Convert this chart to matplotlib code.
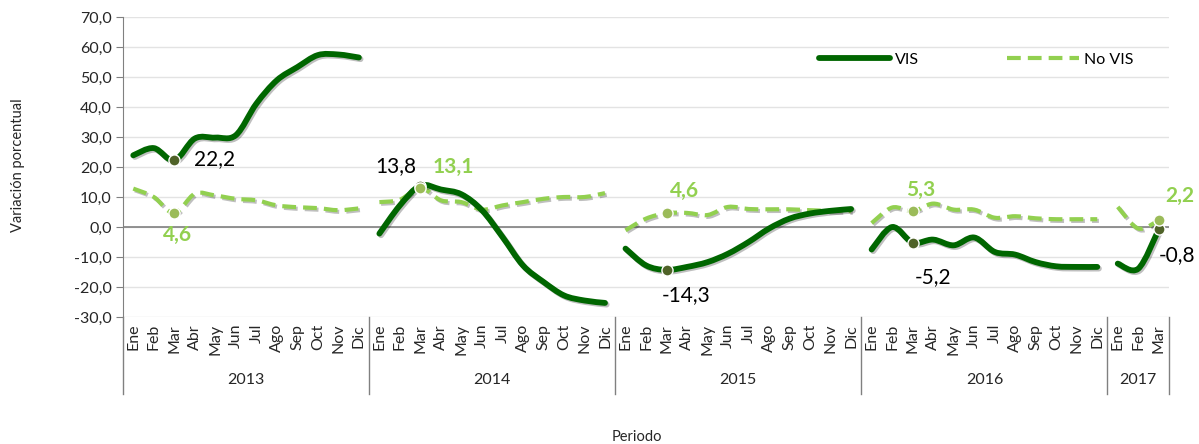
import matplotlib
matplotlib.use('Agg')
import matplotlib.pyplot as plt
import matplotlib.patheffects as pe
from matplotlib.path import Path
from matplotlib.patches import PathPatch
from matplotlib.lines import Line2D
from matplotlib.transforms import blended_transform_factory
import numpy as np

plt.rcParams['font.family'] = ['Lato', 'DejaVu Sans']

meses = ['Ene', 'Feb', 'Mar', 'Abr', 'May', 'Jun', 'Jul', 'Ago', 'Sep', 'Oct', 'Nov', 'Dic']
anios = ['2013', '2014', '2015', '2016', '2017']
meses_por_anio = [12, 12, 12, 12, 3]

# variacion porcentual
vis = [23.9, 26.3, 22.2, 29.5, 29.8, 30.6, 41.1, 48.9, 53.3, 57.3, 57.5, 56.5,
       -2.2, 7.2, 13.8, 12.5, 10.9, 5.6, -3.3, -12.8, -18.3, -22.8, -24.5, -25.3,
       -7.2, -12.8, -14.3, -13.3, -11.7, -8.9, -5.0, -0.5, 2.8, 4.5, 5.4, 6.0,
       -7.5, 0.0, -5.2, -4.2, -6.1, -3.5, -8.3, -9.2, -11.7, -13.1, -13.3, -13.3,
       -12.2, -13.9, -0.8]
no_vis = [12.8, 10.0, 4.6, 11.1, 10.5, 9.4, 8.9, 7.2, 6.6, 6.3, 5.6, 6.2,
          8.3, 9.1, 13.1, 8.9, 8.3, 5.8, 7.2, 8.3, 9.4, 10.0, 10.0, 11.3,
          -1.1, 2.8, 4.6, 4.7, 4.0, 6.7, 6.0, 5.9, 5.9, 5.6, 5.4, 5.3,
          1.3, 6.5, 5.3, 7.8, 5.8, 5.8, 3.1, 3.6, 2.9, 2.6, 2.6, 2.6,
          6.7, -0.5, 2.2]

# puntos etiquetados (indice) y desplazamiento de la etiqueta en pixeles
marcados = [2, 14, 26, 38, 50]
off_vis = [(40, 1), (-25, 20), (20, -25), (20, -34), (18, -26)]
off_no_vis = [(3, -22), (33, 21), (18, 22), (8, 21), (21, 24)]

verde = '#006600'
verde_claro = '#92D050'
sombra = [pe.SimpleLineShadow(offset=(1.2, -1.2), shadow_color='k', alpha=0.25), pe.Normal()]


def curva(ax, xs, ys, **kw):
    # linea suavizada tipo Excel (Bezier por tramos)
    pts = np.column_stack([xs, ys]).astype(float)
    p = np.vstack([pts[0], pts, pts[-1]])
    verts = [pts[0]]
    codes = [Path.MOVETO]
    for i in range(1, len(p) - 2):
        c1 = p[i] + (p[i + 1] - p[i - 1]) / 6
        c2 = p[i + 1] - (p[i + 2] - p[i]) / 6
        verts += [c1, c2, p[i + 1]]
        codes += [Path.CURVE4] * 3
    ax.add_patch(PathPatch(Path(verts, codes), fill=False, **kw))


fig = plt.figure(figsize=(11.99, 4.44), dpi=100)
ax = fig.add_axes([0.1026, 0.286, 0.8724, 0.6757])

inicio = 0
for n in meses_por_anio:
    xs = np.arange(inicio, inicio + n)
    curva(ax, xs, no_vis[inicio:inicio + n], edgecolor=verde_claro, lw=3.0,
          linestyle=(0, (3.3, 1.7)), capstyle='butt', path_effects=sombra, zorder=3)
    curva(ax, xs, vis[inicio:inicio + n], edgecolor=verde, lw=4.2,
          capstyle='round', joinstyle='round', path_effects=sombra, zorder=4)
    inicio += n

for i, ov, on in zip(marcados, off_vis, off_no_vis):
    ax.plot(i, vis[i], 'o', ms=8, mfc='#4F6228', mec='white', mew=1, zorder=5)
    ax.plot(i, no_vis[i], 'o', ms=8, mfc='#9BBB59', mec='white', mew=1, zorder=6)
    ax.annotate(f'{vis[i]:.1f}'.replace('.', ','), (i, vis[i]), xytext=ov,
                textcoords='offset pixels', ha='center', va='center',
                fontsize=15, color='black', annotation_clip=False)
    ax.annotate(f'{no_vis[i]:.1f}'.replace('.', ','), (i, no_vis[i]), xytext=on,
                textcoords='offset pixels', ha='center', va='center',
                fontsize=15, color=verde_claro, fontweight='bold', annotation_clip=False)

ax.set_xlim(-0.5, sum(meses_por_anio) - 0.5)
ax.set_ylim(-30, 70)
yt = np.arange(-30, 71, 10)
ax.set_yticks(yt)
ax.set_yticklabels([f'{v:.1f}'.replace('.', ',') for v in yt], fontsize=11.5, color='#262626')
ax.tick_params(axis='y', length=5, color='#808080', pad=3)
ax.grid(axis='y', color='#E3E3E3', lw=1)
ax.axhline(0, color='#808080', lw=1.2, zorder=2)
ax.set_axisbelow(True)
for s in ['top', 'right', 'bottom']:
    ax.spines[s].set_visible(False)
ax.spines['left'].set_color('#808080')

etiquetas = []
for n in meses_por_anio:
    etiquetas += meses[:n]
ax.set_xticks(np.arange(len(etiquetas)))
ax.set_xticklabels(etiquetas, rotation=90, fontsize=11.5, color='#262626')
ax.tick_params(axis='x', length=0, pad=5)

tr = blended_transform_factory(ax.transData, ax.transAxes)
limites = np.concatenate([[0], np.cumsum(meses_por_anio)]) - 0.5
for b in limites:
    ax.add_line(Line2D([b, b], [0, -0.255], transform=tr, color='#808080', lw=1, clip_on=False))
for a, x0, x1 in zip(anios, limites[:-1], limites[1:]):
    ax.text((x0 + x1) / 2, -0.21, a, transform=tr, ha='center', va='center',
            fontsize=11.5, color='#262626')

fig.text(0.531, 0.016, 'Periodo', ha='center', va='center', fontsize=10.5, color='#262626')
fig.text(0.015, 0.628, 'Variación porcentual', rotation=90, ha='center', va='center',
         fontsize=10.5, color='#262626')

handles = [Line2D([], [], color=verde, lw=4.2, solid_capstyle='round'),
           Line2D([], [], color=verde_claro, lw=3.0, linestyle=(0, (3.3, 1.7)))]
ax.legend(handles, ['VIS', 'No VIS'], ncol=2, loc='center left', bbox_to_anchor=(0.665, 0.857),
          frameon=False, handlelength=4.5, handletextpad=0.3, columnspacing=5.5,
          borderaxespad=0, borderpad=0, fontsize=11.5)

fig.savefig('out.png', dpi=100)
